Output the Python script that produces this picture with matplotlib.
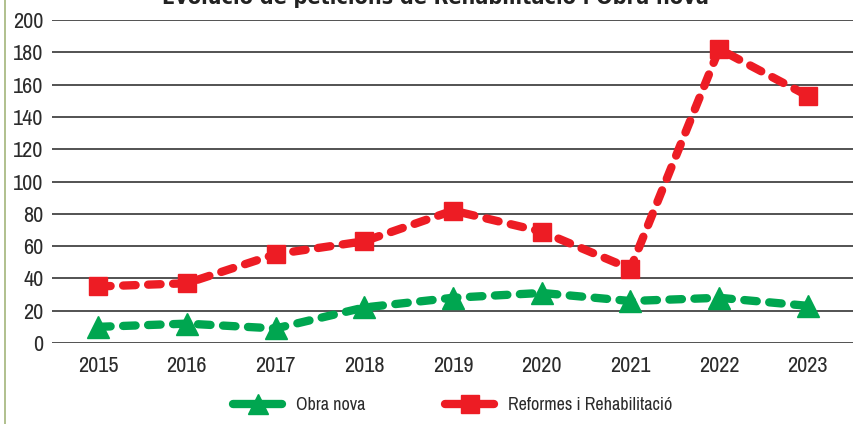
import matplotlib
matplotlib.use("Agg")
import matplotlib.pyplot as plt
from matplotlib import font_manager
from matplotlib.lines import Line2D
import numpy as np

years = ["2015", "2016", "2017", "2018", "2019", "2020", "2021", "2022", "2023"]
obra_nova = [10, 12, 9, 22, 28, 31, 26, 28, 23]
reformes = [35, 37, 55, 63, 82, 69, 46, 182, 153]
yticks = [0, 20, 40, 60, 80, 100, 120, 140, 160, 180, 200]
series_names = ["Obra nova", "Reformes i Rehabilitació"]
title = "Evolució de peticions de Rehabilitació i Obra nova"

names = sorted({f.name for f in font_manager.fontManager.ttflist})
narrow = [n for n in names if "Narrow" in n or "Condensed" in n]
fam = narrow[0] if narrow else "DejaVu Sans"
plt.rcParams['font.family'] = [fam, 'DejaVu Sans']
plt.rcParams['font.stretch'] = 'condensed'

fig = plt.figure(figsize=(8.54, 4.24), dpi=100)
ax = fig.add_axes([52/854, 1-343/424, 1-52/854, 323/424])

x = np.arange(len(years))
green = "#00a650"
red = "#ed1c24"
ax.plot(x, obra_nova, color=green, lw=6, ls=(0, (1.5, 1.5)), dash_capstyle='round',
        marker='^', ms=16, mec=green, mfc=green, zorder=3)
ax.plot(x, reformes, color=red, lw=6, ls=(0, (1.5, 1.5)), dash_capstyle='round',
        marker='s', ms=13, mec=red, mfc=red, zorder=3)

ax.set_xlim(-0.52, len(years) - 0.48)
ax.set_ylim(0, 200)
ax.set_yticks(yticks)
ax.set_xticks(x)
ax.set_xticklabels(years)
ax.yaxis.grid(True, color="#444444", lw=1.3)
ax.set_axisbelow(True)
for s in ax.spines.values():
    s.set_visible(False)
ax.tick_params(length=0, labelsize=16, labelcolor="#2b2b2b", pad=6)
ax.tick_params(axis='x', pad=9)

fig.text(435/854, 1 - 8/424, title, ha='center', va='bottom', fontsize=15.5,
         fontweight='bold', color="#222222", family='DejaVu Sans', fontstretch='condensed')

handles = [
    Line2D([0], [0], color=green, lw=6, solid_capstyle='round', marker='^', ms=15,
           mec=green, mfc=green),
    Line2D([0], [0], color=red, lw=6, solid_capstyle='round', marker='s', ms=13,
           mec=red, mfc=red),
]
fig.legend(handles, series_names, loc='center', bbox_to_anchor=(453/854, 1 - 405/424),
           ncol=2, frameon=False, fontsize=13, handlelength=2.7, columnspacing=4.4,
           handletextpad=0.8, labelcolor="#2b2b2b")

fig.add_artist(Line2D([5/854, 5/854], [0, 1], color="#a3b57a", lw=1.2,
                      transform=fig.transFigure))

fig.savefig("out.png", dpi=100)
